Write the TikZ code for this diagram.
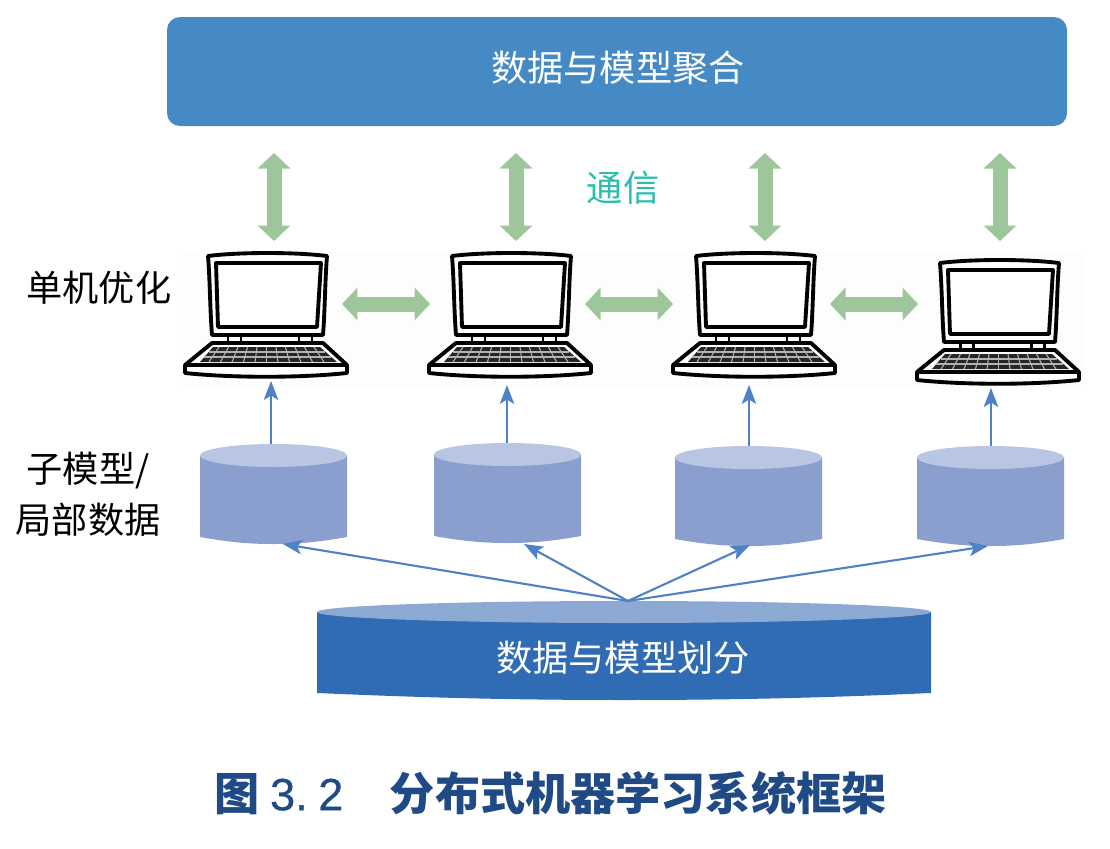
\documentclass[tikz,border=0pt]{standalone}
\usepackage{fontspec}
\setmainfont{Noto Sans CJK SC}
\newfontfamily\digitfont[FakeBold=0.6]{Liberation Sans}
\usetikzlibrary{arrows.meta,positioning}
\definecolor{boxblue}{HTML}{468AC5}
\definecolor{linkgreen}{HTML}{9DC69A}
\definecolor{dbside}{HTML}{8A9FCD}
\definecolor{dbtop}{HTML}{B8C6E3}
\definecolor{diskside}{HTML}{2F6CB4}
\definecolor{disktop}{HTML}{8CA9D3}
\definecolor{feedblue}{HTML}{4F81C7}
\definecolor{titleblue}{HTML}{1F4A85}
\definecolor{teallabel}{HTML}{2DBDB0}
\tikzset{
  linkarrow/.style={linkgreen,line width=0.3cm,{Triangle[length=0.31cm,width=0.64cm]}-{Triangle[length=0.31cm,width=0.64cm]}},
  feedarrow/.style={feedblue,line width=1.2pt,-{Stealth[length=0.38cm,width=0.29cm,inset=0.09cm]}},
  sidelabel/.style={font=\fontsize{20.6pt}{20.6pt}\selectfont,inner sep=0pt},
  lapline/.style={black,line width=2.2pt,line join=round},
}
% one laptop, drawn at the place of the first one
\newcommand{\drawlaptop}{
  \draw[lapline,fill=white] (208,256) .. controls (240,252) and (295,252) .. (327,256)
    .. controls (325,280) and (325,310) .. (323,335) -- (212,335)
    .. controls (210,310) and (210,280) .. (208,256) -- cycle;
  \draw[lapline] (216,263) -- (321,263) -- (317,327) -- (218,327) -- cycle;
  \draw[lapline,line width=1.7pt] (228,335) rectangle (241,343) (299,335) rectangle (312,343);
  \draw[lapline,fill=white] (212,343) -- (323,343) -- (347,365) -- (185,365) -- cycle;
  \draw[lapline,fill=white] (185,365) -- (347,365) -- (347,373)
    .. controls (300,378) and (232,378) .. (185,373) -- cycle;
  \fill[black!85] (213,347) -- (320,347) -- (337,362) -- (200,362) -- cycle;
  \draw[black!30,line width=0.6pt] (209,352) -- (325,352) (204,357) -- (331,357);
  \foreach \k in {-5,...,5}
    \draw[black!30,line width=0.6pt] (266.5+\k*9.5,347) -- (266.5+\k*11.5,362);
}
% one small cylinder
\newcommand{\drawdb}[2]{
  \fill[dbside] (#1-73.5,#2+11) -- (#1-73.5,#2+93) .. controls (#1-40,#2+99) and (#1-20,#2+100) .. (#1,#2+100)
    .. controls (#1+20,#2+100) and (#1+40,#2+99) .. (#1+73.5,#2+93) -- (#1+73.5,#2+11) -- cycle;
  \fill[dbtop] (#1,#2+11.5) ellipse [x radius=73.5,y radius=11.5];
}
\begin{document}
\begin{tikzpicture}[x=0.02cm,y=-0.02cm]
\useasboundingbox (0,0) rectangle (1110,849);
\fill[black!0.6] (183,252) rectangle (1083,388);

\fill[boxblue,rounded corners=0.26cm] (167,17) rectangle (1067,126);
\node[sidelabel,text=white] (agg) at (618,68) {数据与模型聚合};
\node[sidelabel,text=teallabel] (comm) at (623,188) {通信};
\node[sidelabel] (solo) at (99,288) {单机优化};
\node[sidelabel] (sub) at (88,471) {子模型/};
\node[sidelabel] (local) at (88,520) {局部数据};

% laptops
\foreach \dx/\dy in {0/0,244/0,488/0,732/7} {
  \begin{scope}[shift={(\dx,\dy)}]
    \drawlaptop
  \end{scope}
}

% cylinders
\drawdb{273.5}{444}
\drawdb{507.5}{443}
\drawdb{748.5}{446}
\drawdb{990.5}{446}

% split disk
\fill[diskside] (317,612) -- (317,693) .. controls (430,698) and (520,700) .. (624,700)
  .. controls (730,700) and (820,698) .. (931,693) -- (931,612) -- cycle;
\fill[disktop] (624,612) ellipse [x radius=307,y radius=11];
\node[sidelabel,text=white] (split) at (623,658) {数据与模型划分};

% communication arrows
\foreach \i/\x in {1/274,2/516,3/765,4/1000} {
  \coordinate (vt\i) at (\x,153);
  \coordinate (vb\i) at (\x,241);
  \draw[linkarrow] (vt\i) -- (vb\i);
}
\foreach \i/\x/\y in {1/342/304,2/585/304,3/830/304} {
  \coordinate (hl\i) at (\x,\y);
  \coordinate (hr\i) at (\x+88,\y);
  \draw[linkarrow] (hl\i) -- (hr\i);
}

% cylinder to laptop
\foreach \i/\x/\a/\b in {1/271/444/381,2/507/443/385,3/749/446/385,4/991/446/388} {
  \coordinate (db\i) at (\x,\a);
  \coordinate (lap\i) at (\x,\b);
  \draw[feedarrow] (db\i) -- (lap\i);
}

% disk to cylinder
\coordinate (fan) at (628,601);
\foreach \i/\x/\y in {1/283/544,2/524/544,3/750/545,4/988/546} {
  \coordinate (dbb\i) at (\x,\y);
  \draw[feedarrow] (fan) -- (dbb\i);
}

\node[anchor=west,inner sep=0pt,text=titleblue,font=\fontsize{25.7pt}{25.7pt}\selectfont\bfseries] (title) at (214,793) {图\kern6pt{\digitfont\mdseries 3.\kern6pt 2}\kern26.5pt 分布式机器学习系统框架};
\end{tikzpicture}
\end{document}
